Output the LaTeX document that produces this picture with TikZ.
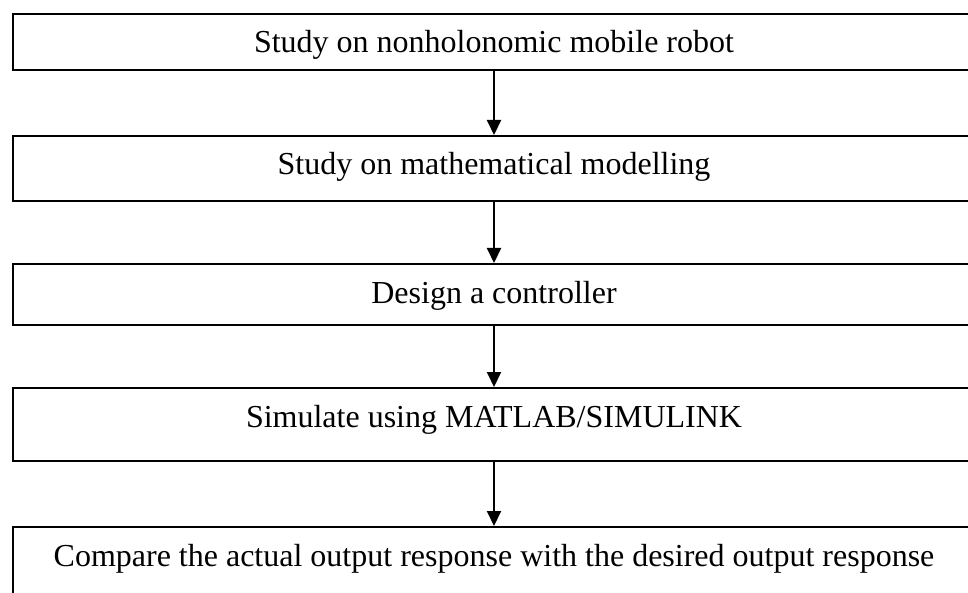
\documentclass[tikz,border=0pt]{standalone}
\usepackage{fontspec}
\setmainfont{Liberation Serif}
\usetikzlibrary{arrows.meta}
\begin{document}
\begin{tikzpicture}[x=1pt,y=-1pt,
  stepbox/.style={draw, line width=2pt, inner sep=0pt, minimum width=962pt,
    text height=39pt, anchor=north, font=\fontsize{32}{38}\selectfont},
  flow/.style={line width=2pt, -{Triangle[length=15pt,width=14pt]}}]
\useasboundingbox (0,0) rectangle (968,593);
\node[stepbox, text depth=17pt] (s1) at (494,13) {Study on nonholonomic mobile robot};
\node[stepbox, text depth=26pt] (s2) at (494,135) {Study on mathematical modelling};
\node[stepbox, text depth=22pt] (s3) at (494,263) {Design a controller};
\node[stepbox, text depth=34pt] (s4) at (494,387) {Simulate using MATLAB/SIMULINK};
\node[stepbox, text depth=60pt] (s5) at (494,526) {Compare the actual output response with the desired output response};
\draw[flow] (s1.south) -- (s2.north);
\draw[flow] (s2.south) -- (s3.north);
\draw[flow] (s3.south) -- (s4.north);
\draw[flow] (s4.south) -- (s5.north);
\end{tikzpicture}
\end{document}
